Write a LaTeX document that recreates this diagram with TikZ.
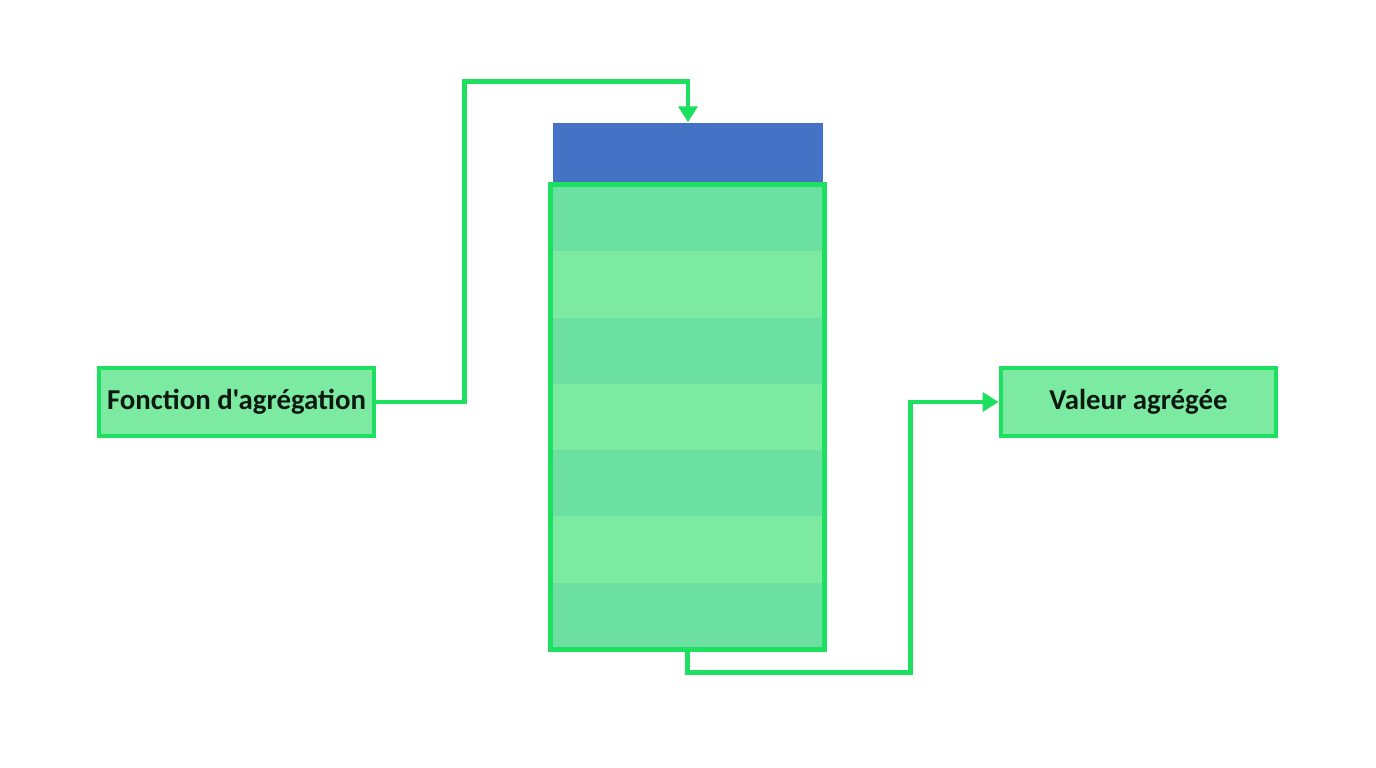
\documentclass[tikz,border=0pt]{standalone}
\usepackage{fontspec}
\setmainfont{Carlito}[Ligatures=TeXOff]
\usetikzlibrary{arrows.meta,positioning,calc}
\definecolor{linegreen}{RGB}{30,224,96}
\definecolor{rowdark}{RGB}{107,224,160}
\definecolor{rowlight}{RGB}{125,234,162}
\definecolor{headblue}{RGB}{68,114,196}
\definecolor{labeltext}{RGB}{12,24,16}

\begin{document}
\begin{tikzpicture}[node distance=0.663cm, on grid,
                    every label box/.style = {fill=rowlight},
                    label box/.style = {rectangle, draw=linegreen, line width=1.4pt, minimum width=2.75cm,
                            minimum height=0.68cm, inner xsep=2pt, text=labeltext,
                            font=\bfseries\fontsize{8.2}{10}\selectfont, every label box},
                    header/.style = {rectangle, fill=headblue, minimum width=2.70cm, minimum height=0.62cm},
                    row/.style = {rectangle, minimum width=2.73cm, minimum height=0.663cm},
                    flow/.style = {draw=linegreen, line width=1.4pt, -{Triangle[length=1.6mm, width=1.9mm]}} ]

                \useasboundingbox (0,0) rectangle (13.76,7.68);

                % table: blue header, green rows
                \node [header] (header) at (6.88,6.14) {};
                \node [row, fill=rowdark] (row1) at (6.875,5.4985) {};
                \foreach \i/\prev/\tone in {2/1/rowlight,3/2/rowdark,4/3/rowlight,5/4/rowdark,6/5/rowlight,7/6/rowdark}
                    \node [row, fill=\tone, below=of row\prev] (row\i) {};
                \draw [draw=linegreen, line width=1.4pt] (row1.north west) rectangle (row7.south east);

                % left and right boxes
                \node [label box] (fonction) at (2.365,3.66) {Fonction d'agrégation};
                \node [label box] (valeur) at (11.385,3.66) {Valeur agrégée};

                \draw [flow] (fonction.east) -- ++(0.88,0) |- ($(header.north)+(0,0.41)$) -- (header.north);
                \draw [flow] (row7.south) -- ++(0,-0.23) -| ($(valeur.west)+(-0.88,0)$) -- (valeur.west);
            \end{tikzpicture}
\end{document}
